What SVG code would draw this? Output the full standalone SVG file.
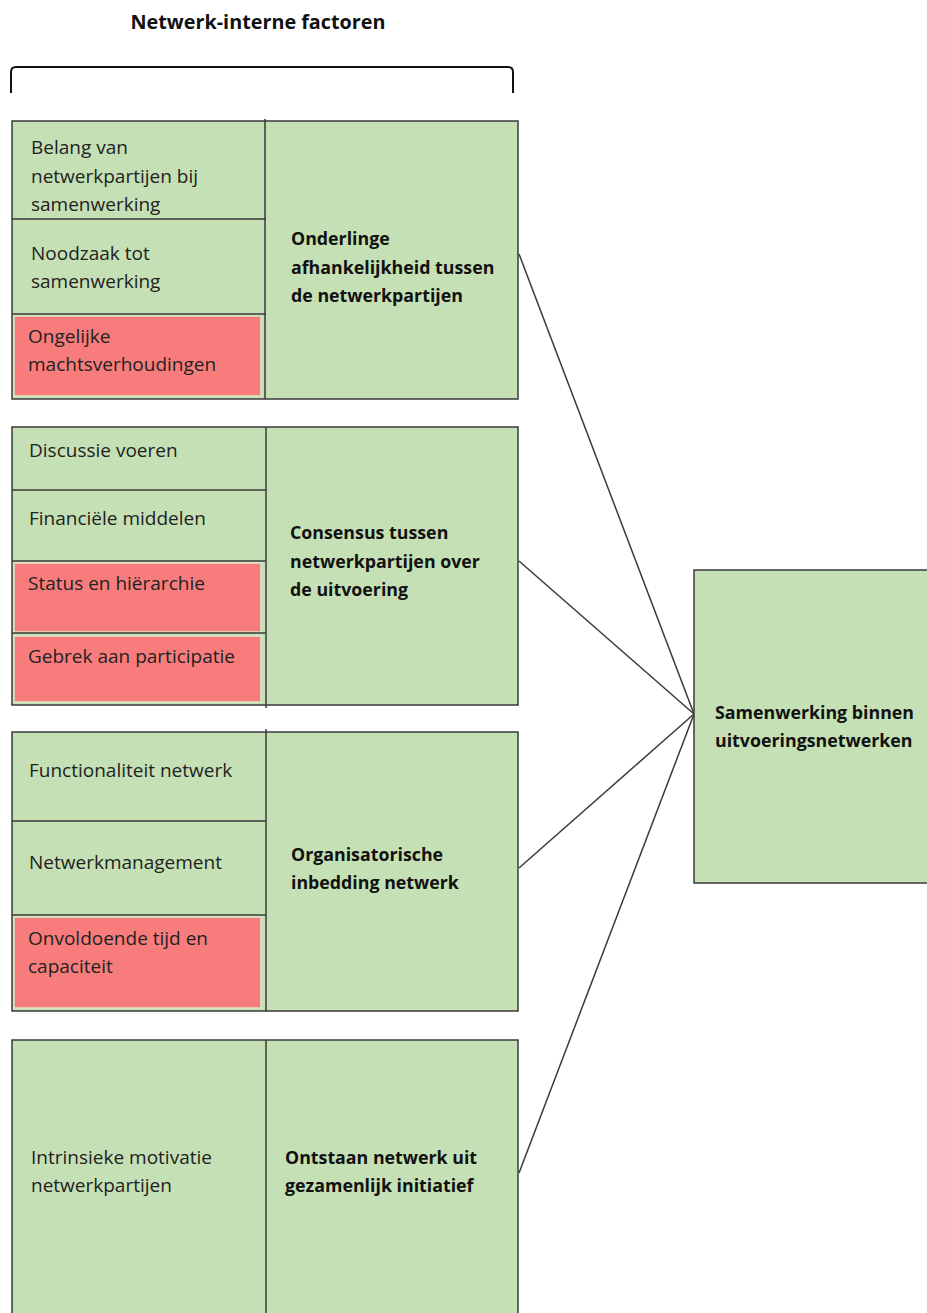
<svg xmlns="http://www.w3.org/2000/svg" width="927" height="1313" viewBox="0 0 927 1313">
<style>
.g{fill:#C5E0B4;stroke:#3a3a3a;stroke-width:1.5}
.r{fill:#F87C7C;stroke:#D9E8C8;stroke-width:1.5}
.ln{stroke:#3a3a3a;stroke-width:1.5;fill:none}
.t{font-family:"Open Sans",sans-serif;font-size:19px;fill:#222}
.b{font-family:"Open Sans",sans-serif;font-size:17.8px;font-weight:bold;fill:#111}
.title{font-family:"Open Sans",sans-serif;font-size:19.8px;font-weight:bold;fill:#111}
</style>
<rect width="927" height="1313" fill="#fff"/>
<g id="header">
<text class="title" x="258" y="29" text-anchor="middle">Netwerk-interne factoren</text>
<path d="M11,93 V72 Q11,67 16,67 H508 Q513,67 513,72 V93" fill="none" stroke="#111" stroke-width="2"/>
</g>
<g id="connectors">
<line class="ln" x1="519" y1="254" x2="694" y2="714"/>
<line class="ln" x1="519" y1="561" x2="694" y2="714"/>
<line class="ln" x1="519" y1="868" x2="694" y2="714"/>
<line class="ln" x1="519" y1="1173" x2="694" y2="714"/>
</g>
<g id="group1">
<rect class="g" x="12" y="121" width="506" height="278"/>
<rect class="r" x="14" y="316" width="247" height="80"/>
<line class="ln" x1="265" y1="119" x2="265" y2="399"/>
<line class="ln" x1="12" y1="219" x2="266" y2="219"/>
<line class="ln" x1="12" y1="314" x2="266" y2="314"/>
<text class="t" x="31" y="154">Belang van</text>
<text class="t" x="31" y="183">netwerkpartijen bij</text>
<text class="t" x="31" y="211">samenwerking</text>
<text class="t" x="31" y="260">Noodzaak tot</text>
<text class="t" x="31" y="288">samenwerking</text>
<text class="t" x="28" y="343">Ongelijke</text>
<text class="t" x="28" y="371">machtsverhoudingen</text>
<text class="b" x="291" y="245">Onderlinge</text>
<text class="b" x="291" y="274">afhankelijkheid tussen</text>
<text class="b" x="291" y="302">de netwerkpartijen</text>
</g>
<g id="group2">
<rect class="g" x="12" y="427" width="506" height="278"/>
<rect class="r" x="14" y="563" width="247" height="69"/>
<rect class="r" x="14" y="636" width="247" height="66"/>
<line class="ln" x1="266" y1="427" x2="266" y2="708"/>
<line class="ln" x1="12" y1="490" x2="266" y2="490"/>
<line class="ln" x1="12" y1="561" x2="266" y2="561"/>
<line class="ln" x1="12" y1="633" x2="266" y2="633"/>
<text class="t" x="29" y="457">Discussie voeren</text>
<text class="t" x="29" y="525">Financiële middelen</text>
<text class="t" x="28" y="590">Status en hiërarchie</text>
<text class="t" x="28" y="663">Gebrek aan participatie</text>
<text class="b" x="290" y="539">Consensus tussen</text>
<text class="b" x="290" y="568">netwerkpartijen over</text>
<text class="b" x="290" y="596">de uitvoering</text>
</g>
<g id="group3">
<rect class="g" x="12" y="732" width="506" height="279"/>
<rect class="r" x="14" y="917" width="247" height="91"/>
<line class="ln" x1="266" y1="729" x2="266" y2="1011"/>
<line class="ln" x1="12" y1="821" x2="266" y2="821"/>
<line class="ln" x1="12" y1="915" x2="266" y2="915"/>
<text class="t" x="29" y="777">Functionaliteit netwerk</text>
<text class="t" x="29" y="869">Netwerkmanagement</text>
<text class="t" x="28" y="945">Onvoldoende tijd en</text>
<text class="t" x="28" y="973">capaciteit</text>
<text class="b" x="291" y="861">Organisatorische</text>
<text class="b" x="291" y="889">inbedding netwerk</text>
</g>
<g id="group4">
<rect class="g" x="12" y="1040" width="506" height="290"/>
<line class="ln" x1="266" y1="1040" x2="266" y2="1313"/>
<text class="t" x="31" y="1164">Intrinsieke motivatie</text>
<text class="t" x="31" y="1192">netwerkpartijen</text>
<text class="b" x="285" y="1164">Ontstaan netwerk uit</text>
<text class="b" x="285" y="1192">gezamenlijk initiatief</text>
</g>
<g id="outcome">
<rect class="g" x="694" y="570" width="250" height="313"/>
<text class="b" x="715" y="719">Samenwerking binnen</text>
<text class="b" x="715" y="747">uitvoeringsnetwerken</text>
</g>
</svg>
